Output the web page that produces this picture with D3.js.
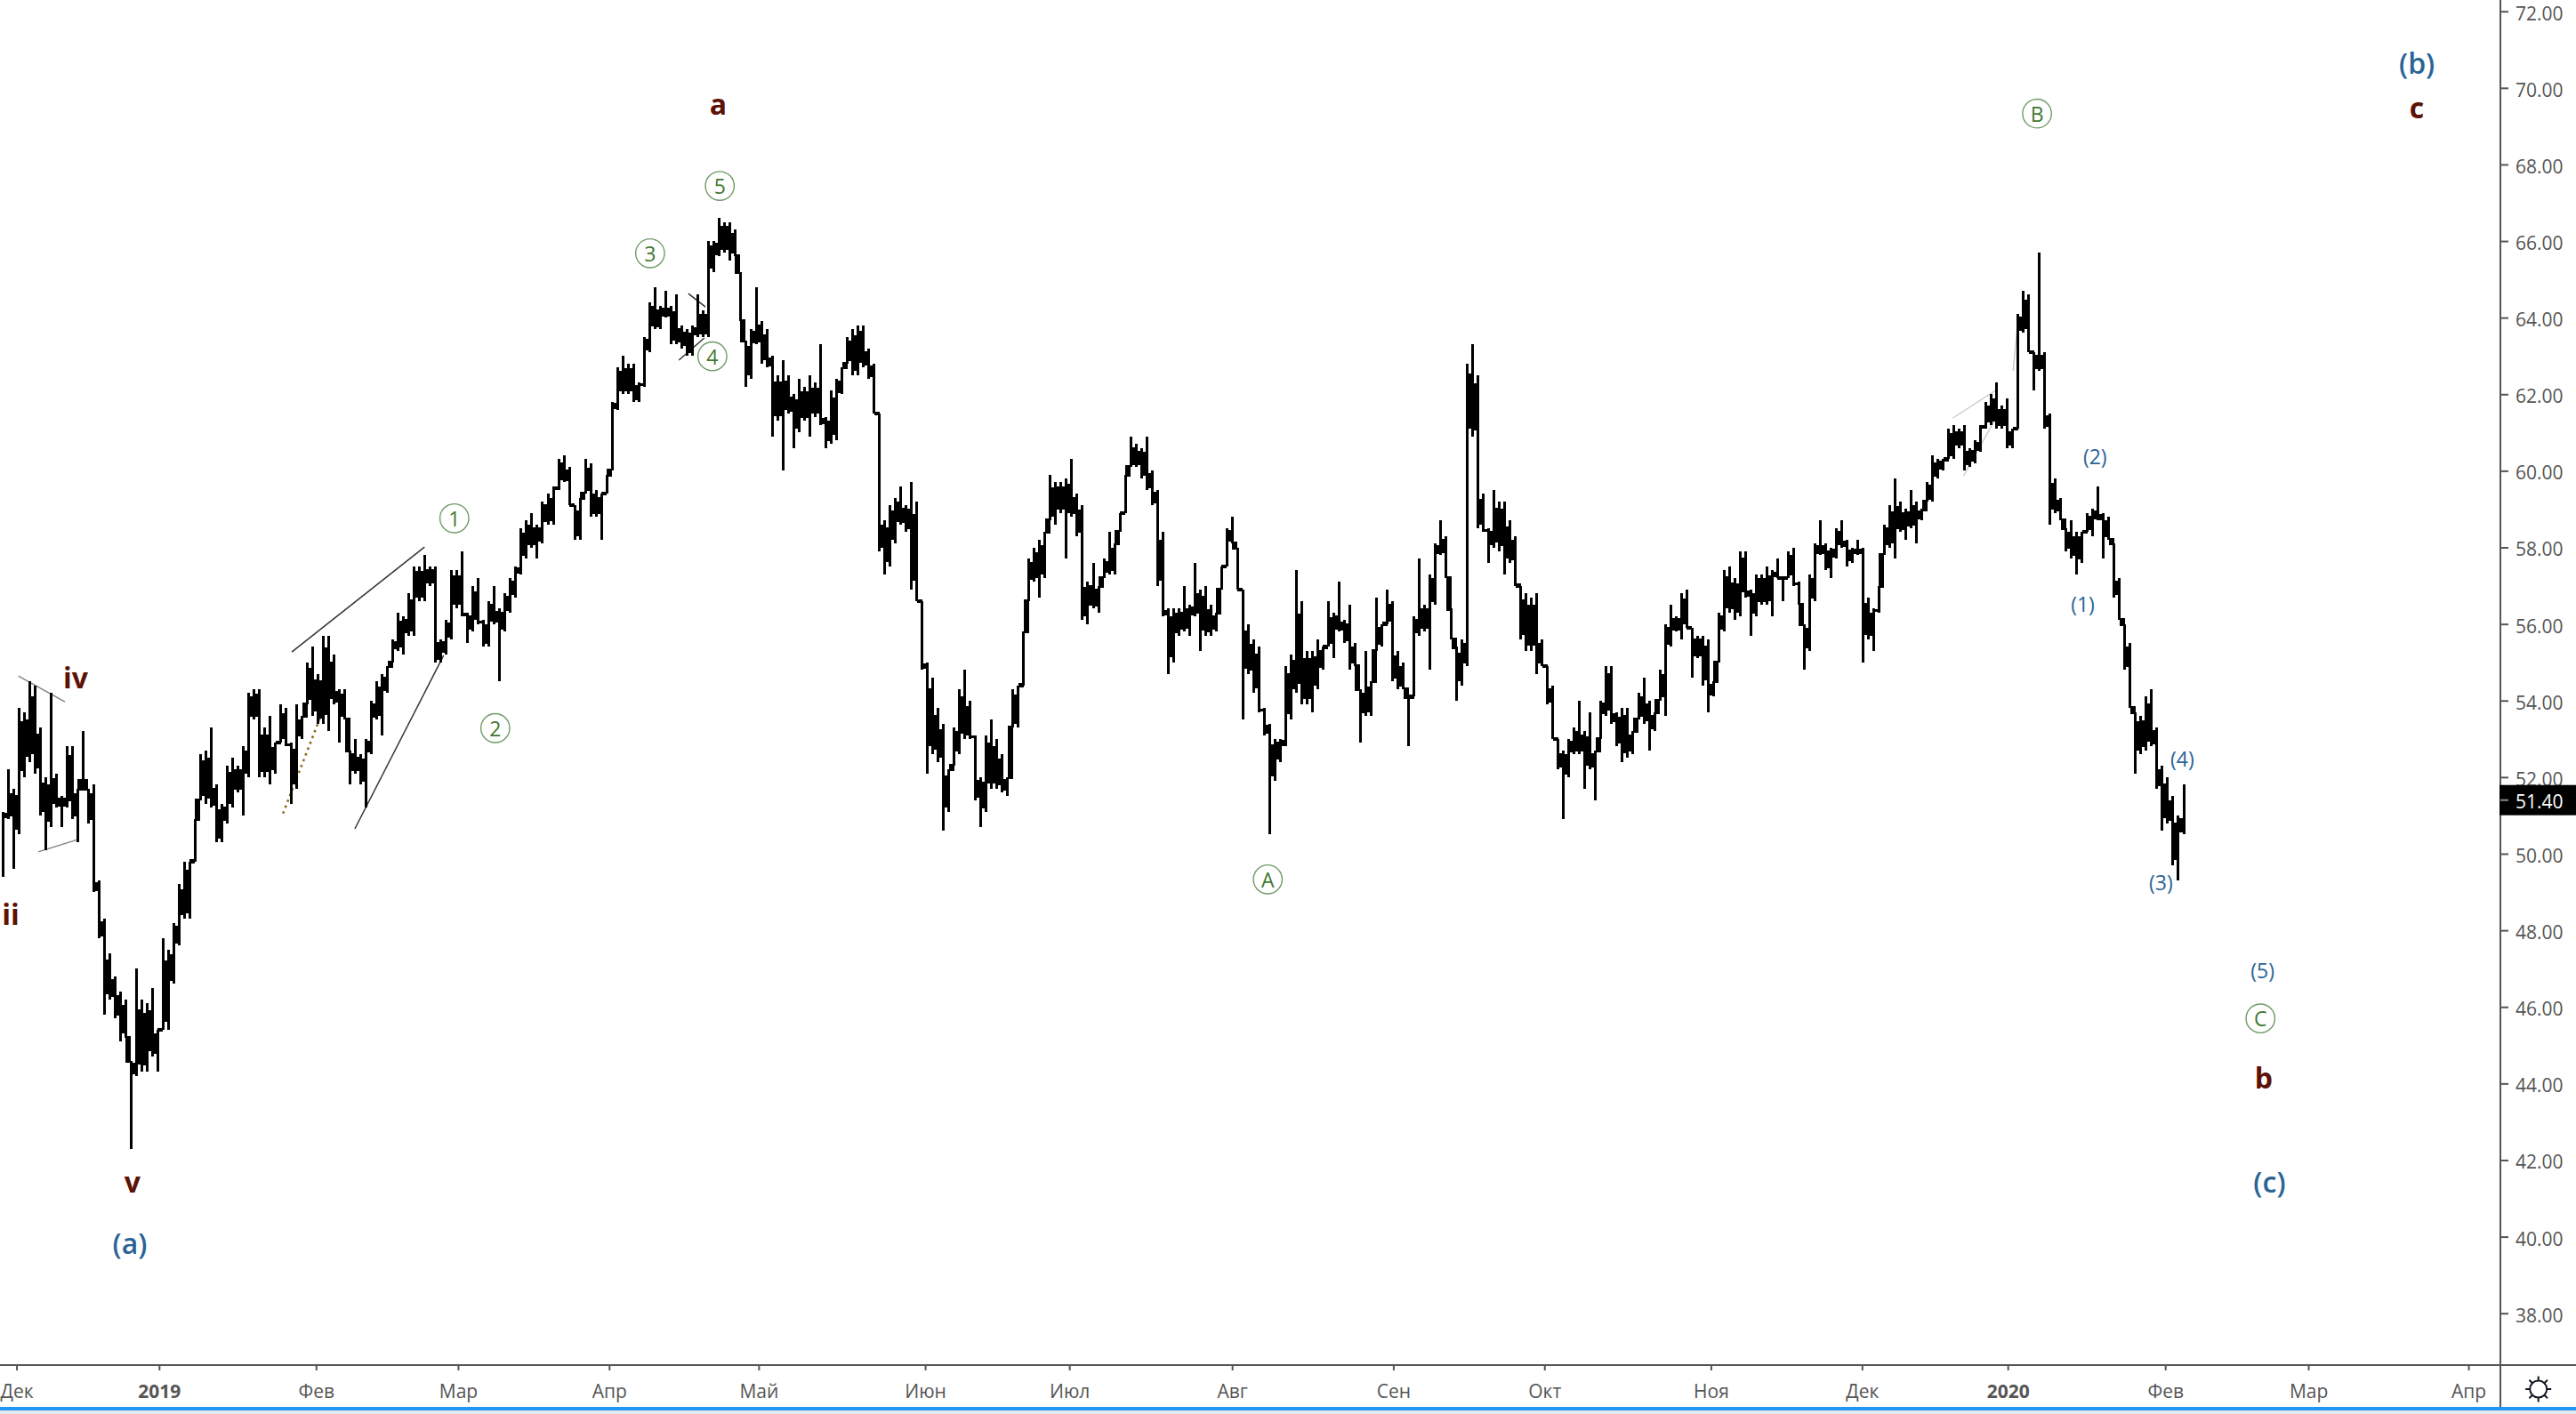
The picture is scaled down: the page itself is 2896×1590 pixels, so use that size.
<!DOCTYPE html>
<html>
<head>
<meta charset="utf-8">
<script src="https://d3js.org/d3.v7.min.js"></script>
<style>
html,body{margin:0;padding:0;background:#fff;overflow:hidden}
svg{display:block}
text{font-family:"Open Sans","Noto Sans",sans-serif}
</style>
</head>
<body>
<svg id="chart" width="2896" height="1590"></svg>
<script>
const barHighs=[
51.1,52.2,51.7,53.8,53.7,54.5,54.4,53.3,52.0,54.2,52.1,51.5,52.8,52.8,51.7,53.2,51.7,51.8,49.3,48.3,47.4,46.8,46.4,46.2,44.6,47.0,46.2,46.1,46.5,45.4,47.8,47.5,48.2,49.2,49.8,49.8,50.9,52.6,52.7,53.3,51.8,51.3,52.3,52.5,52.3,52.8,54.2,54.3,54.3,53.3,53.6,52.9,53.9,53.8,52.9,53.9,53.6,55.0,55.4,54.7,55.7,55.7,55.2,54.3,54.3,52.7,53.0,52.6,53.0,54.0,54.5,54.7,54.9,55.6,56.3,
56.2,56.8,57.5,57.5,57.8,57.5,57.5,55.6,56.1,57.4,57.4,57.9,56.3,57.0,57.2,56.1,56.6,57.0,56.4,56.8,57.2,57.5,58.5,58.7,58.9,58.6,59.2,59.4,59.6,60.3,60.4,60.1,59.1,59.3,60.3,60.2,59.5,59.4,59.9,61.8,
62.7,63.0,62.8,62.8,62.3,63.5,64.4,64.8,64.3,64.7,64.3,64.6,63.8,63.7,63.8,64.6,64.2,66.0,66.0,66.6,66.5,66.5,66.3,65.2,63.4,63.7,64.8,63.9,63.7,63.0,62.5,62.9,62.5,62.0,62.4,62.2,62.5,62.3,63.3,61.4,62.1,62.4,62.7,63.5,63.7,63.8,63.8,63.2,62.8,61.5,
58.7,59.1,59.3,59.6,59.1,59.7,59.2,56.6,55.0,54.6,53.8,53.4,52.2,53.3,54.3,54.8,54.0,53.1,52.0,53.1,53.5,53.0,52.6,52.0,54.3,54.4,55.8,57.7,58.0,58.2,58.4,59.9,59.7,59.7,59.8,60.3,59.4,59.1,57.1,57.6,57.0,57.7,58.4,58.1,58.9,59.9,60.9,60.7,60.6,60.9,60.0,59.5,58.4,56.4,56.4,56.4,57.0,56.5,57.6,56.9,57.0,56.5,56.3,57.5,58.5,58.8,58.0,56.9,56.0,55.6,55.4,53.8,53.4,53.0,53.0,54.9,55.2,57.4,
56.6,55.3,55.3,55.6,55.4,56.6,56.3,57.1,56.1,56.5,55.5,54.3,55.3,54.5,56.7,56.0,56.9,56.6,55.3,55.0,54.1,56.2,57.7,56.5,57.3,58.1,58.7,58.3,56.4,55.4,55.6,62.8,63.3,62.5,59.4,58.5,59.5,59.2,59.2,58.7,58.3,57.0,56.8,56.7,56.8,55.6,54.9,54.4,
53.0,52.7,53.0,53.3,54.0,53.2,53.7,52.7,54.0,54.9,54.9,53.7,53.8,53.8,53.2,54.2,54.6,54.0,53.7,54.8,56.0,56.5,56.2,56.8,56.9,55.9,55.7,55.7,55.6,54.5,56.3,57.4,57.5,57.2,57.9,57.9,56.9,57.3,57.3,57.5,57.4,57.7,57.2,57.9,58.0,57.1,56.0,57.3,58.1,58.7,58.1,58.0,58.5,58.7,58.2,58.0,58.2,58.0,56.7,56.4,57.0,58.6,59.1,59.8,59.2,59.0,59.5,59.2,59.0,59.7,60.4,60.3,60.3,61.1,61.2,61.1,
61.2,60.6,60.8,61.2,61.8,62.0,62.3,61.7,61.9,61.1,64.1,64.7,64.6,63.1,65.7,63.1,61.5,59.8,59.3,58.5,58.7,58.4,58.4,58.9,59.0,59.6,58.9,58.8,58.1,57.2,
56.0,55.5,53.7,53.6,54.1,54.3,53.3,52.3,52.0,51.5,51.0,51.8];
const barLows=[
49.4,50.9,49.6,50.5,52.0,52.4,52.1,51.0,50.1,50.7,51.2,50.7,51.2,50.9,50.3,51.9,50.8,49.0,47.8,45.8,46.2,45.7,45.1,45.2,42.3,44.2,44.3,44.3,44.7,44.3,45.4,45.4,46.6,47.6,48.3,48.3,49.8,51.4,51.3,51.2,50.3,50.3,50.8,51.2,51.6,51.0,52.0,53.5,52.0,52.0,51.8,52.1,52.9,52.8,51.3,51.7,53.0,53.9,53.6,53.4,53.4,53.2,53.9,52.9,53.5,51.8,52.1,51.8,51.2,52.6,53.5,53.1,54.2,55.0,55.3,
55.2,55.7,55.7,56.6,56.6,57.0,55.0,55.0,55.2,55.6,56.4,56.2,55.5,55.8,56.0,55.4,55.4,56.0,54.5,55.8,56.3,56.7,57.3,57.7,58.0,57.7,58.1,58.6,58.6,59.5,59.7,59.1,58.2,58.2,59.4,58.8,58.8,58.2,59.4,60.0,
61.6,62.0,62.0,61.8,61.8,62.2,63.1,63.7,63.7,64.0,63.3,63.3,63.2,63.0,63.0,63.5,63.5,63.5,65.2,65.6,65.7,65.5,65.6,63.9,62.2,62.4,63.3,62.8,62.7,60.9,61.3,60.0,61.5,60.6,61.0,61.3,60.9,61.4,61.2,60.6,60.7,60.8,62.0,62.8,62.5,62.5,62.7,62.4,61.5,57.9,
57.3,57.5,58.1,58.6,58.4,56.9,56.6,54.8,52.1,52.6,52.4,50.6,51.1,52.3,52.6,53.0,53.0,51.4,50.7,51.1,51.7,51.7,51.6,51.5,53.3,53.3,54.4,56.6,57.1,56.7,57.2,58.7,58.6,58.9,57.7,58.8,58.3,56.1,56.0,56.4,56.3,57.2,57.3,57.3,58.4,58.9,60.1,60.1,59.8,59.5,59.1,57.0,56.2,54.7,55.0,55.7,55.8,55.7,56.2,55.3,55.7,55.7,55.8,56.9,57.5,58.1,56.9,53.5,54.7,54.2,53.7,53.1,50.5,51.9,52.4,52.8,53.5,54.2,
53.9,53.9,53.7,54.3,54.8,55.4,55.1,55.8,55.5,54.8,54.9,52.9,53.6,53.6,55.3,55.4,56.0,54.5,54.3,54.3,52.8,54.1,55.7,55.8,54.8,56.5,57.8,57.2,55.6,54.0,54.4,54.9,60.9,58.5,58.4,57.6,58.0,57.9,57.3,57.6,57.0,55.6,55.3,55.3,54.7,54.9,53.9,53.0,
52.2,50.9,52.0,52.6,52.6,51.7,52.2,51.4,53.0,53.6,53.4,52.8,52.4,52.5,52.6,53.5,53.4,52.7,53.2,54.0,53.6,55.4,55.8,55.6,55.9,54.6,55.1,54.4,53.7,54.1,55.0,55.8,56.3,56.1,56.2,56.7,55.7,56.2,56.5,56.5,56.2,57.2,56.6,57.2,57.0,56.5,54.8,55.3,56.6,57.8,57.4,57.2,57.7,58.0,57.5,57.6,57.8,55.0,55.6,55.3,56.3,57.8,58.0,57.7,58.4,58.2,58.5,58.1,58.7,59.2,59.2,59.8,60.0,60.3,60.3,60.6,
60.0,60.1,60.2,60.5,61.1,61.2,61.1,61.1,60.6,60.6,61.1,63.6,63.1,62.1,62.6,61.1,58.6,58.9,58.7,57.9,57.7,57.3,57.6,58.4,58.3,58.7,57.7,58.2,56.7,56.1,
54.8,53.8,52.1,52.6,52.7,52.8,51.7,50.6,50.8,49.7,49.3,50.5];

const priceTicks=[38,40,42,44,46,48,50,52,54,56,58,60,62,64,66,68,70,72];
const monthLabels=["Дек","2019","Фев","Мар","Апр","Май","Июн","Июл","Авг","Сен","Окт","Ноя","Дек","2020","Фев","Мар","Апр"];
const monthBars=[3.1,29.9,59.4,86.1,114.5,142.6,173.9,201,231.6,261.9,290.3,321.6,350,377.4,407,433.9,464];
const lastPrice=51.40;

const redLabels=["iv","ii","v","a","c","b"];
const redBars=[14.2,2.0,24.9,135.0,454.3,425.5];
const redPrices=[54.61,48.44,41.45,69.6,69.5,44.15];
const bigBlueLabels=["(a)","(b)","(c)"];
const bigBlueBars=[24.4,454.3,426.6];
const bigBluePrices=[39.83,70.65,41.45];
const smallBlueLabels=["(1)","(2)","(3)","(4)","(5)"];
const smallBlueBars=[391.5,393.8,406.2,410.2,425.3];
const smallBluePrices=[56.53,60.37,49.25,52.49,46.96];
const greenLabels=["1","2","3","4","5","A","B","C"];
const greenBars=[85.4,93.1,122.2,133.9,135.3,238.3,382.9,424.9];
const greenPrices=[58.76,53.28,65.68,62.99,67.44,49.33,69.33,45.7];

const darkLines=[[54.85,55.27,79.8,58.01],[66.7,50.65,83.4,55.18],[129.4,64.63,132.6,64.28],[127.6,62.89,132.4,63.47]];
const grayLines=[[3.46,54.64,12.2,53.97],[7.2,50.05,14.55,50.37]];
const faintLines=[[367.1,61.38,375.1,62.1],[369.1,59.87,374.9,61.31],[378.4,62.61,379.3,63.89]];
const dottedLine=[53.2,51.05,60.5,53.67];

const W=2896,H=1590,axisX=2811,axisY=1535,bandY=1582,bandB=1586;
const svg=d3.select("#chart");
const x=d3.scaleLinear().domain([0,470]).range([0,axisX]);
const y=d3.scaleLinear().domain([72,38]).range([12.7,1476.7]);
const bars=barHighs.map((h,i)=>({i,h,l:barLows[i]}));
const bx=d3.scaleLinear().domain([0,bars.length-1]).range([3,2455]);

const plot=svg.append("g");
function drawLines(data,color,width,dash){
  plot.append("g").selectAll("line").data(data).join("line")
    .attr("x1",d=>x(d[0])).attr("y1",d=>y(d[1])).attr("x2",d=>x(d[2])).attr("y2",d=>y(d[3]))
    .attr("stroke",color).attr("stroke-width",width).attr("stroke-dasharray",dash||null);
}
drawLines(faintLines,"#c8c8c8",1.4);
drawLines(grayLines,"#808080",1.4);
drawLines(darkLines,"#333",1.5);
drawLines([dottedLine],"#8a6a1a",2.6,"2.6,4.4");

const barG=plot.append("g").attr("shape-rendering","crispEdges").attr("fill","#000");
barG.selectAll("rect.b").data(bars).join("rect").attr("class","b")
  .attr("x",d=>bx(d.i)-1.5).attr("width",3)
  .attr("y",d=>y(d.h)).attr("height",d=>y(d.l)-y(d.h));
// the gap between neighbouring bars: filled over the inner part of their shared range,
// so the ends of every bar stand out as narrow spikes; bars with no shared range are bridged
const links=bars.slice(0,-1).map(d=>{
  const n=bars[d.i+1];
  const t=Math.min(d.h,n.h), b=Math.max(d.l,n.l), ov=t-b;
  if(ov<=0) return {i:d.i,top:b+0.05,bot:t-0.05};
  return {i:d.i,top:t-ov*0.14,bot:b+ov*0.1};
});
barG.selectAll("rect.c").data(links).join("rect").attr("class","c")
  .attr("x",d=>bx(d.i)).attr("width",d=>bx(d.i+1)-bx(d.i))
  .attr("y",d=>y(d.top)).attr("height",d=>y(d.bot)-y(d.top));

function labels(names,bs,ps,size,weight,color){
  plot.append("g").selectAll("text").data(names).join("text")
    .attr("x",(d,i)=>x(bs[i])).attr("y",(d,i)=>y(ps[i]))
    .attr("text-anchor","middle").attr("dominant-baseline","central")
    .attr("font-size",size).attr("font-weight",weight).attr("fill",color).text(d=>d);
}
labels(redLabels,redBars,redPrices,32,700,"#5d1206");
labels(bigBlueLabels,bigBlueBars,bigBluePrices,32,600,"#2a6496");
labels(smallBlueLabels,smallBlueBars,smallBluePrices,23,400,"#2a6496");
const gg=plot.append("g").selectAll("g").data(greenLabels).join("g")
  .attr("transform",(d,i)=>`translate(${x(greenBars[i])},${y(greenPrices[i])})`);
gg.append("circle").attr("r",16.2).attr("fill","#fff").attr("fill-opacity",0).attr("stroke","#6f9a66").attr("stroke-width",1.4);
gg.append("text").attr("text-anchor","middle").attr("dominant-baseline","central")
  .attr("font-size",23).attr("fill","#44782f").text(d=>d);

// right price axis
const yAxis=d3.axisRight(y).tickValues(priceTicks).tickSize(9).tickPadding(8).tickFormat(d=>d.toFixed(2));
const ya=svg.append("g").attr("transform",`translate(${axisX},0)`).call(yAxis);
ya.select(".domain").remove();
ya.selectAll("line").attr("stroke","#555").attr("stroke-width",2);
ya.selectAll("text").attr("font-size",21).attr("fill","#555").attr("font-family",'"Open Sans",sans-serif').attr("dy","0.45em");

// bottom time axis
const xAxis=d3.axisBottom(x).tickValues(monthBars).tickSize(6).tickPadding(16).tickFormat((d,i)=>monthLabels[i]);
const xa=svg.append("g").attr("transform",`translate(0,${axisY})`).call(xAxis);
xa.select(".domain").remove();
xa.selectAll("line").attr("stroke","#555").attr("stroke-width",2);
xa.selectAll("text").attr("font-size",21).attr("fill","#555").attr("font-family",'"Open Sans",sans-serif')
  .attr("font-weight",(d,i)=>/^\d/.test(monthLabels[i])?700:400);

svg.append("line").attr("x1",0).attr("x2",W).attr("y1",axisY).attr("y2",axisY).attr("stroke","#555").attr("stroke-width",2);
svg.append("line").attr("x1",axisX).attr("x2",axisX).attr("y1",0).attr("y2",bandY).attr("stroke","#555").attr("stroke-width",2);

// last price tag
const tag=svg.append("g");
tag.append("rect").attr("x",axisX-1).attr("y",y(lastPrice)-17).attr("width",W-axisX+1).attr("height",34).attr("fill","#000");
tag.append("line").attr("x1",axisX).attr("x2",axisX+9).attr("y1",y(lastPrice)).attr("y2",y(lastPrice)).attr("stroke","#888").attr("stroke-width",2);
tag.append("text").attr("x",axisX+17).attr("y",y(lastPrice)+1).attr("dominant-baseline","central")
  .attr("font-size",21).attr("fill","#fff").text(lastPrice.toFixed(2));

// gear
const gear=svg.append("g").attr("transform","translate(2853.7,1562)").attr("stroke","#131722").attr("stroke-width",2).attr("fill","none");
gear.append("circle").attr("r",9.5);
gear.selectAll("line").data(d3.range(8)).join("line")
  .attr("x1",d=>9.5*Math.cos(d*Math.PI/4)).attr("y1",d=>9.5*Math.sin(d*Math.PI/4))
  .attr("x2",d=>14.5*Math.cos(d*Math.PI/4)).attr("y2",d=>14.5*Math.sin(d*Math.PI/4));

// bottom band
svg.append("rect").attr("x",0).attr("y",bandY).attr("width",W).attr("height",bandB-bandY).attr("fill","#2196f3");
svg.append("rect").attr("x",0).attr("y",bandB).attr("width",W).attr("height",H-bandB).attr("fill","#e4e8f0");
</script>
</body>
</html>
